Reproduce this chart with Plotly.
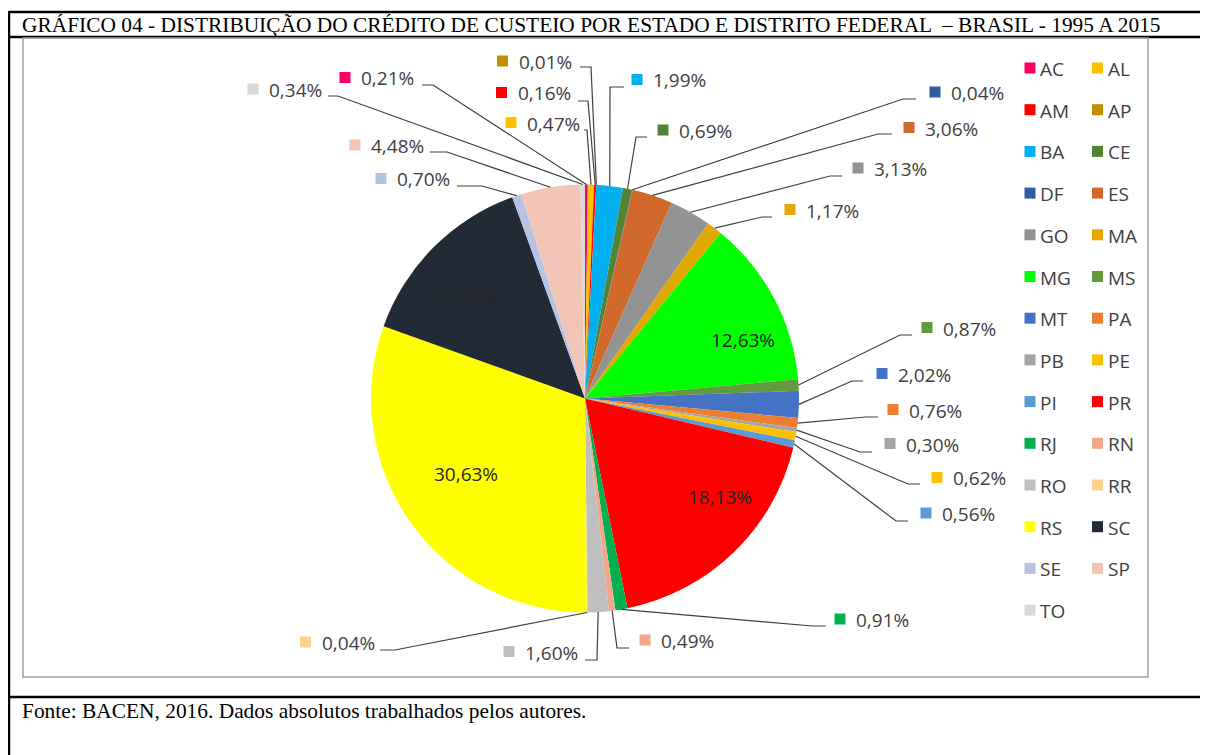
import math
import plotly.graph_objects as go

# ---------------- data ----------------
states = ["AC", "AL", "AM", "AP", "BA", "CE", "DF", "ES", "GO", "MA", "MG", "MS", "MT", "PA",
          "PB", "PE", "PI", "PR", "RJ", "RN", "RO", "RR", "RS", "SC", "SE", "SP", "TO"]
shares = [0.21, 0.47, 0.16, 0.01, 1.99, 0.69, 0.04, 3.06, 3.13, 1.17, 12.63, 0.87, 2.02, 0.76,
          0.30, 0.62, 0.56, 18.13, 0.91, 0.49, 1.60, 0.04, 30.63, 13.99, 0.70, 4.48, 0.34]
colors = ["#FF0066", "#FFC000", "#FF0000", "#BF8F00", "#00B0F0", "#548235", "#3559A0", "#D0692B",
          "#939393", "#E0A800", "#00FF00", "#629B3E", "#4472C4", "#ED7D31", "#A5A5A5", "#FFC000",
          "#5B9BD5", "#FF0000", "#00B050", "#F1A78A", "#BFBFBF", "#FFD38C", "#FFFF00", "#222A35",
          "#B7C2E3", "#F2C4B6", "#D9D9D9"]

title_text = "GRÁFICO 04 - DISTRIBUIÇÃO DO CRÉDITO DE CUSTEIO POR ESTADO E DISTRITO FEDERAL  – BRASIL - 1995 A 2015"
source_text = "Fonte: BACEN, 2016. Dados absolutos trabalhados pelos autores."

# ---------------- layout (page pixel positions) ----------------
PAGE_W, PAGE_H = 1208, 755
OFF = 8                      # default body margin of the page
W, H = PAGE_W - OFF, PAGE_H - OFF
CX, CY, R = 585, 398.5, 214

# inside labels: state -> text centre
inside_pos = {"SC": (468, 297), "RS": (466, 474), "MG": (743, 340), "PR": (720, 497)}
# outside labels: state -> (square cx, square cy, elbow x, elbow y, end x, end y)
outside_pos = {
    "TO": (253, 89, 338, 96, 328, 96),
    "AC": (345, 77.5, 433, 85, 422, 85),
    "AP": (502.5, 61, 591, 67, 580, 67),
    "AM": (501.5, 92.5, 588, 101, 578, 101),
    "AL": (511, 122.5, 587, 130, 584, 130),
    "SP": (355, 145, 447, 152, 430, 152),
    "SE": (381, 178.5, 482, 186, 457, 186),
    "BA": (637, 79.5, 610, 87, 624, 87),
    "CE": (663, 130, 636, 137, 647, 137),
    "DF": (935, 92, 903, 99, 916, 99),
    "ES": (909, 127.5, 878, 134, 892, 134),
    "GO": (858, 168, 830, 176, 842, 176),
    "MA": (790, 209.5, 762, 217, 772, 217),
    "MS": (927, 327.5, 900, 335, 912, 335),
    "MT": (882, 373.5, 852, 381, 863, 381),
    "PA": (893, 409.5, 866, 417, 878, 417),
    "PB": (890, 443.5, 860, 452, 872, 452),
    "PE": (937, 477.5, 908, 484, 920, 484),
    "PI": (926, 513, 896, 521, 908, 521),
    "RJ": (840, 619, 812, 626, 826, 626),
    "RN": (645, 640, 617, 648, 629, 648),
    "RO": (509, 651.5, 597, 660, 585, 660),
    "RR": (305.5, 642, 395, 650, 380, 650),
}

LABEL_FONT = dict(family="Open Sans, Lato, sans-serif", size=19, color="#404040")
INSIDE_FONT = dict(family="Open Sans, Lato, sans-serif", size=19, color="#262626")
SERIF = dict(family="Liberation Serif, Times New Roman, serif", size=21.4, color="black")


def px(x):
    return (x - OFF) / W


def py(y):
    return 1 - (y - OFF) / H


def fmt(v):
    return f"{v:.2f}".replace(".", ",") + "%"


fig = go.Figure()
fig.add_trace(go.Pie(
    labels=states, values=shares, sort=False, direction="clockwise", rotation=0,
    marker=dict(colors=colors, line=dict(width=0)),
    textinfo="none", showlegend=False, hovertemplate="%{label}: %{value:.2f}%<extra></extra>",
    domain=dict(x=[px(CX - R), px(CX + R)], y=[py(CY + R), py(CY - R)]),
))

shapes = []
annotations = []

total = sum(shares)
cum = 0.0
for st, v, col in zip(states, shares, colors):
    mid = (cum + v / 2) / total
    cum += v
    theta = 2 * math.pi * mid
    ex, ey = CX + R * math.sin(theta), CY - R * math.cos(theta)
    if st in inside_pos:
        x, y = inside_pos[st]
        annotations.append(dict(x=px(x), y=py(y), xref="paper", yref="paper", text=fmt(v),
                                showarrow=False, xanchor="center", yanchor="middle", font=INSIDE_FONT))
    elif st in outside_pos:
        sx, sy, bx, by, tx, ty = outside_pos[st]
        shapes.append(dict(type="path", xref="paper", yref="paper",
                           path=f"M {px(ex)},{py(ey)} L {px(bx)},{py(by)} L {px(tx)},{py(ty)}",
                           line=dict(color="#404040", width=1.2)))
        shapes.append(dict(type="rect", xref="paper", yref="paper",
                           x0=px(sx - 5.5), x1=px(sx + 5.5), y0=py(sy - 5.5), y1=py(sy + 5.5),
                           fillcolor=col, line=dict(width=0)))
        annotations.append(dict(x=px(sx + 14), y=py(sy + 1), xref="paper", yref="paper", text=fmt(v),
                                showarrow=False, xanchor="left", yanchor="middle", font=LABEL_FONT))

# legend (2 columns)
for i, (st, col) in enumerate(zip(states, colors)):
    row, c = divmod(i, 2)
    mx = 1030 if c == 0 else 1097.5
    my = 68 + row * 41.7
    shapes.append(dict(type="rect", xref="paper", yref="paper",
                       x0=px(mx - 5.5), x1=px(mx + 5.5), y0=py(my - 5.5), y1=py(my + 5.5),
                       fillcolor=col, line=dict(width=0)))
    annotations.append(dict(x=px(mx + 8), y=py(my + 1), xref="paper", yref="paper", text=st,
                            showarrow=False, xanchor="left", yanchor="middle", font=LABEL_FONT))

# frame lines
black = dict(color="black", width=2.5)
shapes += [
    dict(type="line", xref="paper", yref="paper", x0=px(9), x1=1, y0=py(12), y1=py(12), line=black),
    dict(type="line", xref="paper", yref="paper", x0=px(9), x1=1, y0=py(37), y1=py(37), line=black),
    dict(type="line", xref="paper", yref="paper", x0=px(9), x1=1, y0=py(697), y1=py(697), line=black),
    dict(type="line", xref="paper", yref="paper", x0=px(9), x1=px(9), y0=py(11), y1=0, line=black),
    dict(type="rect", xref="paper", yref="paper", x0=px(23), x1=px(1148), y0=py(677), y1=py(38),
         line=dict(color="#A0A0A0", width=1.5)),
]

annotations.append(dict(x=px(20), y=py(25.5), xref="paper", yref="paper", text=title_text,
                        showarrow=False, xanchor="left", yanchor="middle", font=SERIF))
annotations.append(dict(x=px(20), y=py(711), xref="paper", yref="paper", text=source_text,
                        showarrow=False, xanchor="left", yanchor="middle", font=SERIF))

fig.update_layout(width=W, height=H, margin=dict(l=0, r=0, t=0, b=0),
                  paper_bgcolor="white", plot_bgcolor="white",
                  shapes=shapes, annotations=annotations)

fig.write_html("out.html")
